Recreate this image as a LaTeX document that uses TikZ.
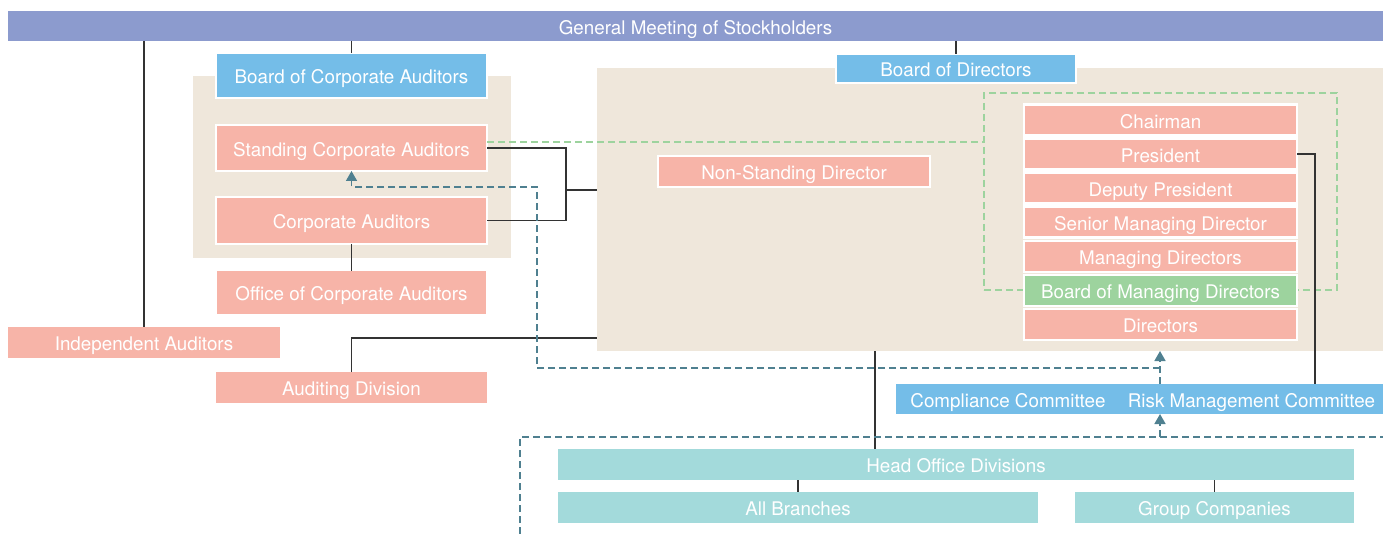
\documentclass[tikz,border=0pt]{standalone}
\usepackage{fontspec}
\setmainfont{TeX Gyre Heros}
\usetikzlibrary{arrows.meta}
\definecolor{gmc}{HTML}{8C9BCE}
\definecolor{bluec}{HTML}{74BDE8}
\definecolor{salc}{HTML}{F7B4A8}
\definecolor{beigec}{HTML}{EFE7DB}
\definecolor{greenc}{HTML}{9DD39E}
\definecolor{tealc}{HTML}{A3DADB}
\definecolor{dashc}{HTML}{4F8090}
\definecolor{linec}{HTML}{333333}
\begin{document}
\begin{tikzpicture}[x=1pt,y=-1pt,
  every node/.style={inner sep=0pt, outer sep=0pt, text=white, font=\fontsize{18.8}{20}\selectfont, text height=16.3pt, text depth=0pt},
  bx/.style={fill=salc, minimum height=31pt},
  wb/.style={draw=white, line width=2.2pt},
  panel/.style={fill=beigec},
  conn/.style={draw=linec, line width=1.1pt},
  tdash/.style={draw=dashc, line width=1.6pt, dash pattern=on 7pt off 4pt},
  gdash/.style={draw=greenc, line width=1.6pt, dash pattern=on 7pt off 4pt},
  tip/.style={-{Triangle[width=11pt,length=10pt]}}
]
\useasboundingbox (0,0) rectangle (1383,534);
% panels
\node[panel, minimum width=318pt, minimum height=182pt] (lp) at (352,167) {};
\node[panel, minimum width=786pt, minimum height=283pt] (rp) at (990,209.5) {};
\node[gdash, minimum width=353pt, minimum height=197pt] (gbox) at (1160.5,191.5) {};
% top bar
\node[fill=gmc, minimum width=1375pt, minimum height=30pt] (gm) at (695.5,26) {General Meeting of Stockholders};
% auditors side
\node[fill=bluec, wb, minimum width=271pt, minimum height=45pt] (bca) at (351.5,75.5) {Board of Corporate Auditors};
\node[bx, wb, minimum width=271pt, minimum height=46pt] (sca) at (351.5,148) {Standing Corporate Auditors};
\node[bx, wb, minimum width=271pt, minimum height=47pt] (ca) at (351.5,220.5) {Corporate Auditors};
\node[bx, minimum width=269pt, minimum height=43pt] (oca) at (351.5,292.5) {Office of Corporate Auditors};
\node[bx, minimum width=272pt] (ia) at (144,342.5) {Independent Auditors};
\node[bx, minimum width=271pt] (ad) at (351.5,387.5) {Auditing Division};
% directors side
\node[fill=bluec, wb, minimum width=240pt, minimum height=29pt] (bod) at (956,68.5) {Board of Directors};
\node[bx, wb, minimum width=272pt] (nsd) at (794,171.5) {Non-Standing Director};
\node[bx, wb, minimum width=273pt] (chair) at (1160.5,120) {Chairman};
\node[bx, wb, minimum width=273pt] (pres) at (1160.5,154) {President};
\node[bx, wb, minimum width=273pt] (dep) at (1160.5,188) {Deputy President};
\node[bx, wb, minimum width=273pt] (smd) at (1160.5,222) {Senior Managing Director};
\node[bx, wb, minimum width=273pt] (md) at (1160.5,256.5) {Managing Directors};
\node[bx, wb, fill=greenc, minimum width=273pt] (bmd) at (1160.5,290.5) {Board of Managing Directors};
\node[bx, wb, minimum width=273pt] (dirs) at (1160.5,324.5) {Directors};
% committees
\node[fill=bluec, minimum width=224pt, minimum height=30pt] (cc) at (1008,399) {Compliance Committee};
\node[fill=bluec, minimum width=263pt, minimum height=30pt] (rm) at (1251.5,399) {Risk Management Committee};
% head office
\node[fill=tealc, minimum width=796pt, minimum height=31pt] (hod) at (956,464.5) {Head Office Divisions};
\node[fill=tealc, minimum width=480pt, minimum height=31pt] (ab) at (798,507.5) {All Branches};
\node[fill=tealc, minimum width=279pt, minimum height=31pt] (gc) at (1214.5,507.5) {Group Companies};
% helper coordinates
\coordinate (j1) at (566,190);
\coordinate (y338) at (0,338);
\coordinate (x875) at (875,0);
\coordinate (x1315) at (1315,0);
\coordinate (x1160) at (1160,0);
\coordinate (d1) at (537,368);
\coordinate (d2) at (537,187);
\coordinate (g142) at (0,142);
\coordinate (b1) at (520,534);
\coordinate (b2) at (520,437);
\coordinate (b3) at (1383,437);
% solid connectors
\draw[conn] (gm.south -| ia.north) -- (ia.north);
\draw[conn] (gm.south -| bca.north) -- (bca.north);
\draw[conn] (gm.south -| bod.north) -- (bod.north);
\draw[conn] (sca.east) -| (j1) |- (ca.east);
\draw[conn] (j1) -- (j1 -| rp.west);
\draw[conn] (ca.south) -- (oca.north);
\draw[conn] (ad.north) |- (rp.west |- y338);
\draw[conn] (rp.south -| x875) -- (hod.north -| x875);
\draw[conn] (hod.south -| ab.north) -- (ab.north);
\draw[conn] (hod.south -| gc.north) -- (gc.north);
\draw[conn] (pres.east) -| (rm.north -| x1315);
% green dashed
\draw[gdash] (sca.east |- g142) -- (gbox.west |- g142);
% teal dashed arrows
\draw[tdash, tip] (rm.north -| x1160) -- (rp.south -| x1160);
\draw[tdash, tip] (d1 -| x1160) -- (d1) -- (d2) -- (d2 -| sca.south) -- (sca.south);
\draw[tdash] (b1) -- (b2) -- (b3);
\draw[tdash, tip] (b2 -| x1160) -- (rm.south -| x1160);
\end{tikzpicture}
\end{document}
